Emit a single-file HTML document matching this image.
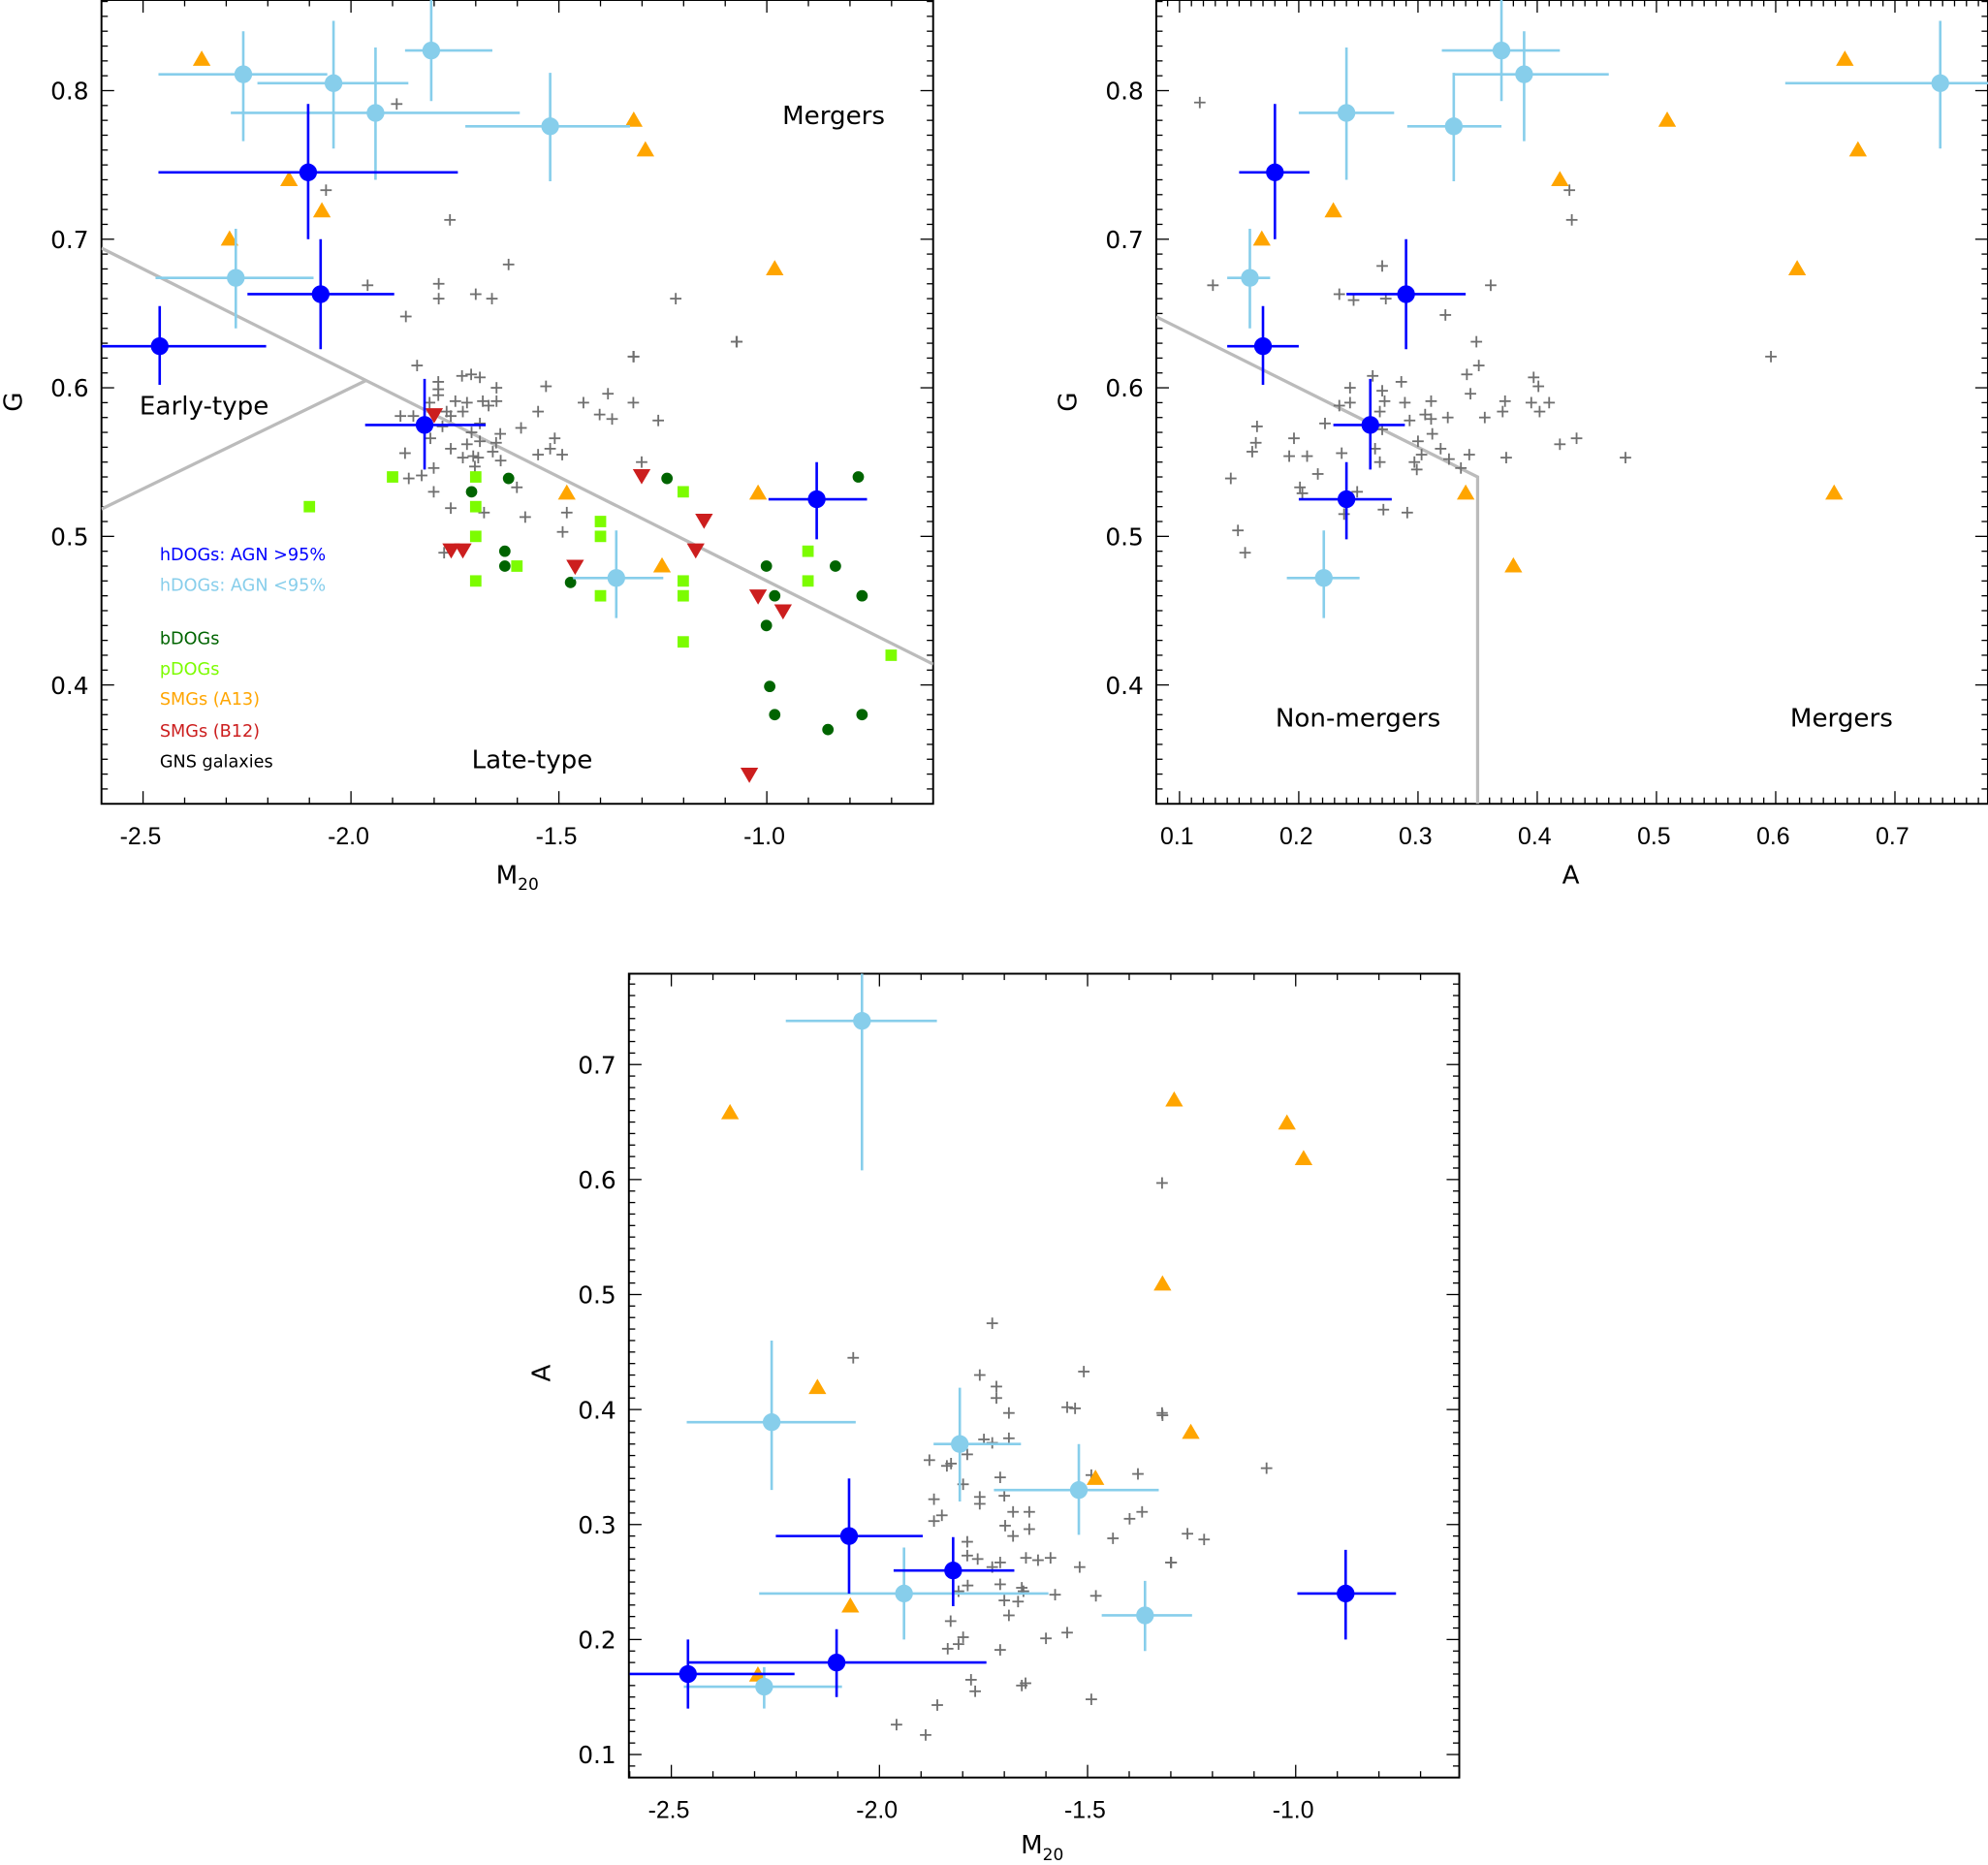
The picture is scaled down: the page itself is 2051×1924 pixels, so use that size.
<!DOCTYPE html>
<html><head><meta charset="utf-8"><style>
html,body{margin:0;padding:0;background:#fff;}
svg{display:block;}
text{font-family:"Liberation Sans","DejaVu Sans",sans-serif;}
.dv{font-family:"DejaVu Sans","Liberation Sans",sans-serif;}
</style></head><body>
<svg id="fig" xmlns="http://www.w3.org/2000/svg" width="2051" height="1924" viewBox="0 0 1568 1471">
<defs>
<clipPath id="c1"><rect x="80" y="0" width="656" height="634"/></clipPath>
<clipPath id="c2"><rect x="912" y="0" width="656" height="634"/></clipPath>
<clipPath id="c3"><rect x="496" y="768" width="655" height="634"/></clipPath>
</defs>
</svg>
<script>
// ---- hDOGs AGN >95% ----
const hM20=[-2.46,-2.103,-2.073,-1.823,-0.88];
const hG=[0.628,0.745,0.663,0.575,0.525];
const hA=[0.17,0.18,0.29,0.26,0.24];
const hM20lo=[-2.60,-2.463,-2.249,-1.966,-0.996];
const hM20hi=[-2.204,-1.743,-1.896,-1.676,-0.759];
const hGlo=[0.602,0.700,0.626,0.545,0.498];
const hGhi=[0.655,0.791,0.700,0.606,0.550];
const hAlo=[0.140,0.150,0.240,0.229,0.200];
const hAhi=[0.200,0.209,0.340,0.289,0.278];
// ---- hDOGs AGN <95% ----
const lM20=[-2.259,-2.042,-1.941,-1.807,-1.521,-2.277,-1.362];
const lG=[0.811,0.805,0.785,0.827,0.776,0.674,0.472];
const lA=[0.389,0.738,0.240,0.370,0.330,0.159,0.221];
const lM20lo=[-2.463,-2.225,-2.289,-1.87,-1.725,-2.47,-1.466];
const lM20hi=[-2.057,-1.862,-1.594,-1.66,-1.329,-2.09,-1.249];
const lGlo=[0.766,0.761,0.740,0.793,0.739,0.640,0.445];
const lGhi=[0.840,0.847,0.829,0.88,0.812,0.707,0.504];
const lAlo=[0.330,0.608,0.200,0.320,0.291,0.140,0.190];
const lAhi=[0.460,0.87,0.280,0.419,0.370,0.176,0.251];
// ---- SMGs A13 ----
const sM20=[-2.359,-1.320,-1.292,-2.149,-2.070,-2.292,-0.981,-1.481,-1.021,-1.252];
const sG=[0.821,0.780,0.760,0.740,0.719,0.700,0.680,0.529,0.529,0.480];
const sA=[0.658,0.509,0.669,0.419,0.229,0.169,0.618,0.340,0.649,0.380];
// ---- bDOGs ----
const bM20=[-1.621,-1.710,-1.630,-1.630,-1.472,-1.240,-1.001,-0.981,-1.001,-0.835,-0.993,-0.981,-0.780,-0.771,-0.771,-0.853];
const bG=[0.539,0.530,0.490,0.480,0.469,0.539,0.480,0.460,0.440,0.480,0.399,0.380,0.540,0.460,0.380,0.370];
// ---- pDOGs ----
const pM20=[-1.900,-1.700,-1.700,-1.700,-1.601,-1.700,-1.400,-1.400,-1.400,-1.201,-1.201,-1.201,-1.201,-0.901,-0.901,-2.100,-0.701];
const pG=[0.540,0.540,0.520,0.500,0.480,0.470,0.510,0.500,0.460,0.530,0.470,0.460,0.429,0.490,0.470,0.520,0.420];
// ---- SMGs B12 ----
const rM20=[-1.800,-1.759,-1.731,-1.461,-1.301,-1.151,-1.171,-1.021,-0.961,-1.042];
const rG=[0.582,0.491,0.491,0.480,0.541,0.511,0.491,0.460,0.450,0.340];
// ---- GNS galaxies, panel 1 (M20,G) ----
const g1M20=[-1.841,-1.790,-1.790,-1.790,-1.733,-1.711,-1.690,-1.650,-1.531,-1.321,-1.072,-1.382,-1.441,-1.321,-1.550,-1.402,-1.372,-1.261,-1.591,-1.749,-1.721,-1.683,-1.650,-1.669,-1.811,-1.770,-1.731,-1.881,-1.850,-1.760,-1.780,-1.690,-1.710,-1.641,-1.809,-1.721,-1.690,-1.651,-1.510,-1.521,-1.550,-1.492,-1.760,-1.659,-1.870,-1.731,-1.706,-1.694,-1.640,-1.702,-1.801,-1.830,-1.861,-1.601,-1.801,-1.760,-1.680,-1.581,-1.481,-1.491,-1.301,-1.776,-1.890,-2.060,-1.762,-1.960,-1.789,-1.789,-1.700,-1.661,-1.621,-1.868,-1.219,-1.320,-1.073];
const g1G=[0.615,0.604,0.599,0.595,0.608,0.609,0.607,0.600,0.601,0.621,0.631,0.596,0.590,0.590,0.584,0.582,0.579,0.578,0.573,0.591,0.590,0.591,0.591,0.588,0.590,0.584,0.584,0.581,0.581,0.581,0.574,0.576,0.570,0.569,0.566,0.562,0.564,0.563,0.566,0.559,0.555,0.555,0.559,0.557,0.556,0.553,0.554,0.553,0.551,0.547,0.546,0.541,0.539,0.533,0.530,0.519,0.516,0.513,0.516,0.503,0.550,0.489,0.791,0.733,0.713,0.669,0.670,0.660,0.663,0.660,0.683,0.648,0.660,0.621,0.631];
// ---- GNS galaxies, panel 2 (A,G) ----
const g2A=[0.128,0.234,0.246,0.273,0.361,0.323,0.349,0.351,0.341,0.397,0.401,0.344,0.262,0.286,0.243,0.270,0.272,0.243,0.234,0.289,0.311,0.268,0.306,0.311,0.325,0.293,0.356,0.373,0.371,0.395,0.410,0.402,0.222,0.165,0.270,0.312,0.300,0.196,0.164,0.161,0.192,0.207,0.236,0.264,0.303,0.319,0.343,0.374,0.419,0.433,0.268,0.297,0.326,0.336,0.299,0.216,0.143,0.201,0.203,0.249,0.271,0.291,0.238,0.149,0.117,0.427,0.429,0.596,0.474,0.155,0.270];
const g2G=[0.669,0.663,0.659,0.660,0.669,0.649,0.631,0.615,0.609,0.607,0.601,0.596,0.608,0.604,0.600,0.598,0.591,0.590,0.588,0.590,0.591,0.584,0.582,0.579,0.580,0.578,0.580,0.591,0.584,0.590,0.590,0.584,0.576,0.574,0.572,0.569,0.564,0.566,0.563,0.557,0.554,0.554,0.556,0.559,0.555,0.559,0.555,0.553,0.562,0.566,0.550,0.550,0.552,0.546,0.545,0.542,0.539,0.533,0.529,0.530,0.518,0.516,0.515,0.504,0.792,0.733,0.713,0.621,0.553,0.489,0.682];
// ---- GNS galaxies, panel 3 (M20,A) ----
const g3M20=[-1.729,-1.509,-1.759,-1.719,-1.719,-1.689,-1.549,-1.530,-1.320,-1.749,-1.729,-1.689,-1.789,-1.880,-1.838,-1.828,-1.799,-1.710,-1.491,-1.379,-1.070,-1.869,-1.759,-1.759,-1.700,-1.850,-1.869,-1.679,-1.640,-1.698,-1.679,-1.640,-1.399,-1.369,-1.439,-1.260,-1.220,-1.789,-1.789,-1.764,-1.710,-1.729,-1.648,-1.619,-1.589,-1.519,-1.299,-1.788,-1.810,-1.710,-1.658,-1.654,-1.578,-1.700,-1.667,-1.480,-1.689,-1.829,-1.799,-1.810,-1.710,-1.600,-1.549,-1.780,-1.770,-1.658,-1.649,-1.491,-2.063,-1.959,-1.889,-1.861,-1.836,-1.321,-1.321,-1.300];
const g3A=[0.475,0.433,0.430,0.420,0.410,0.397,0.402,0.401,0.395,0.374,0.371,0.375,0.361,0.356,0.351,0.353,0.335,0.341,0.343,0.344,0.349,0.322,0.324,0.318,0.325,0.308,0.303,0.311,0.311,0.299,0.290,0.296,0.305,0.311,0.288,0.292,0.287,0.285,0.273,0.270,0.267,0.263,0.271,0.269,0.271,0.263,0.267,0.247,0.242,0.248,0.245,0.242,0.239,0.234,0.233,0.238,0.221,0.216,0.202,0.196,0.191,0.201,0.206,0.165,0.155,0.160,0.162,0.148,0.445,0.126,0.117,0.143,0.192,0.597,0.397,0.267];
// ---- tick labels ----
const m20Ticks=[-2.5,-2.0,-1.5,-1.0];
const gTicks=[0.4,0.5,0.6,0.7,0.8];
const aTicksX=[0.1,0.2,0.3,0.4,0.5,0.6,0.7];
const aTicksY=[0.1,0.2,0.3,0.4,0.5,0.6,0.7];

const NS='http://www.w3.org/2000/svg';
const svg=document.getElementById('fig');
function el(tag,attrs,parent){const e=document.createElementNS(NS,tag);for(const k in attrs)e.setAttribute(k,attrs[k]);(parent||svg).appendChild(e);return e;}
function mkScale(d0,d1,p0,p1){return v=>p0+(v-d0)/(d1-d0)*(p1-p0);}

const P1={x0:80,x1:736,y0:0,y1:634,xd:[-2.60,-0.60],yd:[0.320,0.861],clip:'c1',xmin:0.1,ymin:0.01,xt:m20Ticks,yt:gTicks,xf:v=>v.toFixed(1),yf:v=>v.toFixed(1)};
const P2={x0:912,x1:1568,y0:0,y1:634,xd:[0.0805,0.778],yd:[0.320,0.861],clip:'c2',xmin:0.01,ymin:0.01,xt:aTicksX,yt:gTicks,xf:v=>v.toFixed(1),yf:v=>v.toFixed(1)};
const P3={x0:496,x1:1151,y0:768,y1:1402,xd:[-2.602,-0.607],yd:[0.080,0.779],clip:'c3',xmin:0.1,ymin:0.01,xt:m20Ticks,yt:aTicksY,xf:v=>v.toFixed(1),yf:v=>v.toFixed(1)};
[P1,P2,P3].forEach(P=>{P.sx=mkScale(P.xd[0],P.xd[1],P.x0,P.x1);P.sy=mkScale(P.yd[0],P.yd[1],P.y1,P.y0);});

function axes(P,name){
  const g=el('g',{});
  
  
  const eps=1e-9;
  let start=Math.ceil(P.xd[0]/P.xmin-eps);
  for(let i=start;i*P.xmin<=P.xd[1]+eps;i++){
    const v=i*P.xmin;const x=P.sx(v);
    const major=P.xt.some(t=>Math.abs(t-v)<1e-6);
    const L=major?10:5;
    el('line',{x1:x,x2:x,y1:P.y1,y2:P.y1-L,stroke:'#000','stroke-width':1},g);
    el('line',{x1:x,x2:x,y1:P.y0,y2:P.y0+L,stroke:'#000','stroke-width':1},g);
  }
  start=Math.ceil(P.yd[0]/P.ymin-eps);
  for(let i=start;i*P.ymin<=P.yd[1]+eps;i++){
    const v=i*P.ymin;const y=P.sy(v);
    const major=P.yt.some(t=>Math.abs(t-v)<1e-6);
    const L=major?10:5;
    el('line',{x1:P.x0,x2:P.x0+L,y1:y,y2:y,stroke:'#000','stroke-width':1},g);
    el('line',{x1:P.x1,x2:P.x1-L,y1:y,y2:y,stroke:'#000','stroke-width':1},g);
  }
  P.xt.forEach(v=>{
    const t=el('text',{x:P.sx(v)-2,y:P.y1+32,'text-anchor':'middle','font-size':19,fill:'#000'},g);
    t.textContent=P.xf(v);
    
    
  });
  P.yt.forEach(v=>{
    const t=el('text',{x:P.x0-10,y:P.sy(v)+7,'text-anchor':'end','font-size':19,fill:'#000',style:'font-family:"DejaVu Sans",sans-serif'},g);
    t.textContent=P.yf(v);
    
    
  });
  const r=el('rect',{x:P.x0,y:P.y0,width:P.x1-P.x0,height:P.y1-P.y0,fill:'none',stroke:'#000','stroke-width':1.5},g);
  
  
}

function cross(P,xs,ys,name){
  const g=el('g',{'clip-path':'url(#'+P.clip+')',stroke:'#707070','stroke-width':1.4});
  
  
  xs.forEach((v,i)=>{const x=P.sx(v),y=P.sy(ys[i]);
    el('line',{x1:x-4.5,x2:x+4.5,y1:y,y2:y},g);el('line',{x1:x,x2:x,y1:y-4.5,y2:y+4.5},g);});
}
function circles(P,xs,ys,r,col,name){
  const g=el('g',{'clip-path':'url(#'+P.clip+')',fill:col});
  
  
  xs.forEach((v,i)=>el('circle',{cx:P.sx(v),cy:P.sy(ys[i]),r:r},g));
}
function squares(P,xs,ys,name){
  const g=el('g',{'clip-path':'url(#'+P.clip+')',fill:'#7cfc00'});
  
  
  xs.forEach((v,i)=>el('rect',{x:P.sx(v)-4.5,y:P.sy(ys[i])-4.5,width:9,height:9},g));
}
function tris(P,xs,ys,up,col,name){
  const g=el('g',{'clip-path':'url(#'+P.clip+')',fill:col});
  
  
  xs.forEach((v,i)=>{const x=P.sx(v),y=P.sy(ys[i]);
    const pts=up?`${x-7},${y+5} ${x+7},${y+5} ${x},${y-7}`:`${x-7},${y-5} ${x+7},${y-5} ${x},${y+7}`;
    el('polygon',{points:pts},g);});
}
function errs(P,xs,ys,xlo,xhi,ylo,yhi,col,name){
  const g=el('g',{'clip-path':'url(#'+P.clip+')',stroke:col,'stroke-width':2});
  
  
  xs.forEach((v,i)=>{const x=P.sx(v),y=P.sy(ys[i]);
    el('line',{x1:P.sx(xlo[i]),x2:P.sx(xhi[i]),y1:y,y2:y},g);
    el('line',{x1:x,x2:x,y1:P.sy(ylo[i]),y2:P.sy(yhi[i])},g);});
}
function txt(x,y,s,size,col,name,extra){
  const t=el('text',Object.assign({x:x,y:y,'font-size':size,fill:col,'class':'dv'},extra||{}));
  t.textContent=s;
  
  
  return t;
}

// ---------- Panel 1: G vs M20 ----------
axes(P1,'panel-gm20');
{
  const g=el('g',{'clip-path':'url(#c1)',stroke:'#bbbbbb','stroke-width':2.5,fill:'none'});
  
  
  const merg=m=>-0.14*m+0.33, early=m=>0.136*m+0.872;
  const mi=(0.872-0.33)/(-0.276);
  el('line',{x1:P1.sx(-2.6),y1:P1.sy(merg(-2.6)),x2:P1.sx(-0.6),y2:P1.sy(merg(-0.6))},g);
  el('line',{x1:P1.sx(-2.6),y1:P1.sy(early(-2.6)),x2:P1.sx(mi),y2:P1.sy(early(mi))},g);
}
cross(P1,g1M20,g1G,'gns-galaxies-p1');
circles(P1,bM20,bG,4.5,'#006400','bdogs-p1');
squares(P1,pM20,pG,'pdogs-p1');
tris(P1,rM20,rG,false,'#cc1e1e','smgs-b12-p1');
tris(P1,sM20,sG,true,'#ffa500','smgs-a13-p1');
errs(P1,lM20,lG,lM20lo,lM20hi,lGlo,lGhi,'#87ceeb','hdogs-low-errors-p1');
errs(P1,hM20,hG,hM20lo,hM20hi,hGlo,hGhi,'#0000ff','hdogs-high-errors-p1');
circles(P1,lM20,lG,7,'#87ceeb','hdogs-low-agn-p1');
circles(P1,hM20,hG,7,'#0000ff','hdogs-high-agn-p1');
txt(617,98,'Mergers',20,'#000','mergers-label');
txt(110,327,'Early-type',20,'#000','early-type-label');
txt(372,606,'Late-type',20,'#000','late-type-label');
txt(126,442,'hDOGs: AGN >95%',13.5,'#0000ff','legend-hdogs-high');
txt(126,466,'hDOGs: AGN <95%',13.5,'#87ceeb','legend-hdogs-low');
txt(126,508,'bDOGs',13.5,'#006400','legend-bdogs');
txt(126,532,'pDOGs',13.5,'#7cfc00','legend-pdogs');
txt(126,556,'SMGs (A13)',13.5,'#ffa500','legend-smgs-a13');
txt(126,581,'SMGs (B12)',13.5,'#cc1e1e','legend-smgs-b12');
txt(126,605,'GNS galaxies',13.5,'#000','legend-gns');
txt(0,0,'G',20,'#000','y-axis-title-g-p1',{transform:'translate(17,317) rotate(-90)','text-anchor':'middle'});
{const t=txt(408,697,'M',20,'#000','x-axis-title-m20-p1',{'text-anchor':'middle'});const s=el('tspan',{'font-size':13,dy:5},t);s.textContent='20';}

// ---------- Panel 2: G vs A ----------
axes(P2,'panel-ga');
{
  const g=el('g',{'clip-path':'url(#c2)',stroke:'#bbbbbb','stroke-width':2.5,fill:'none'});
  
  
  const ln=a=>-0.4*a+0.68;
  el('polyline',{points:`${P2.sx(0.0805)},${P2.sy(ln(0.0805))} ${P2.sx(0.35)},${P2.sy(ln(0.35))} ${P2.sx(0.35)},${P2.sy(0.32)}`},g);
}
cross(P2,g2A,g2G,'gns-galaxies-p2');
tris(P2,sA,sG,true,'#ffa500','smgs-a13-p2');
errs(P2,lA,lG,lAlo,lAhi,lGlo,lGhi,'#87ceeb','hdogs-low-errors-p2');
errs(P2,hA,hG,hAlo,hAhi,hGlo,hGhi,'#0000ff','hdogs-high-errors-p2');
circles(P2,lA,lG,7,'#87ceeb','hdogs-low-agn-p2');
circles(P2,hA,hG,7,'#0000ff','hdogs-high-agn-p2');
txt(1006,573,'Non-mergers',20,'#000','non-mergers-label');
txt(1412,573,'Mergers',20,'#000','mergers-label-p2');
txt(0,0,'G',20,'#000','y-axis-title-g-p2',{transform:'translate(849,317) rotate(-90)','text-anchor':'middle'});
txt(1239,697,'A',20,'#000','x-axis-title-a-p2',{'text-anchor':'middle'});

// ---------- Panel 3: A vs M20 ----------
axes(P3,'panel-am20');
cross(P3,g3M20,g3A,'gns-galaxies-p3');
tris(P3,sM20,sA,true,'#ffa500','smgs-a13-p3');
errs(P3,lM20,lA,lM20lo,lM20hi,lAlo,lAhi,'#87ceeb','hdogs-low-errors-p3');
errs(P3,hM20,hA,hM20lo,hM20hi,hAlo,hAhi,'#0000ff','hdogs-high-errors-p3');
circles(P3,lM20,lA,7,'#87ceeb','hdogs-low-agn-p3');
circles(P3,hM20,hA,7,'#0000ff','hdogs-high-agn-p3');
txt(0,0,'A',20,'#000','y-axis-title-a-p3',{transform:'translate(434,1083) rotate(-90)','text-anchor':'middle'});
{const t=txt(822,1462,'M',20,'#000','x-axis-title-m20-p3',{'text-anchor':'middle'});const s=el('tspan',{'font-size':13,dy:5},t);s.textContent='20';}
</script>
</body></html>
